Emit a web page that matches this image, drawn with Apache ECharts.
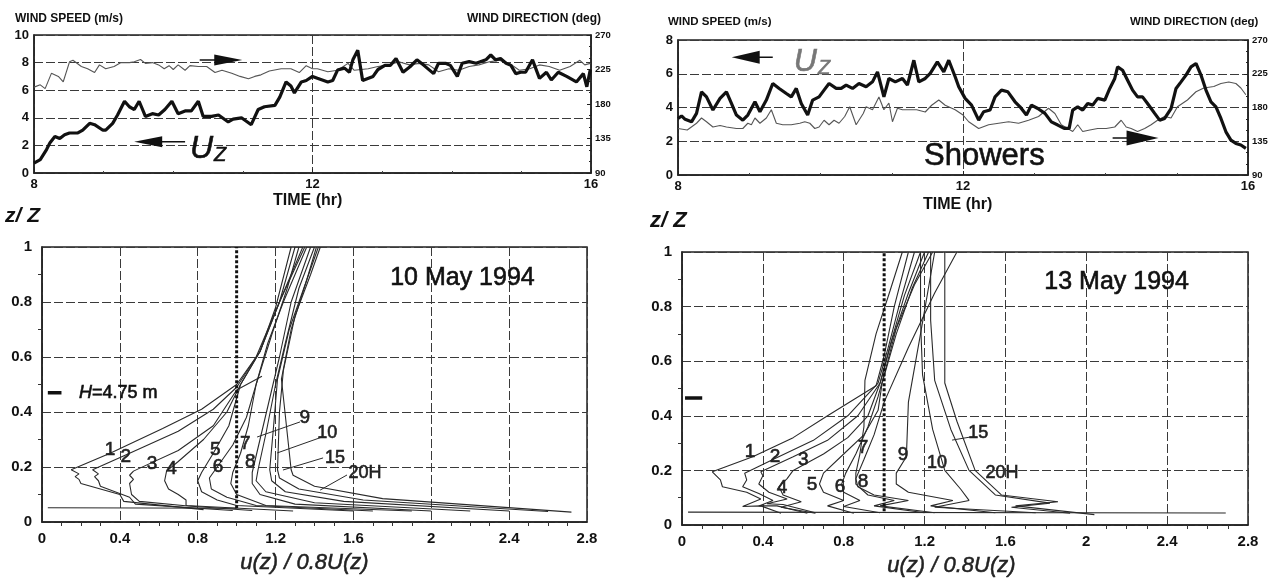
<!DOCTYPE html>
<html><head><meta charset="utf-8">
<script src="https://cdn.jsdelivr.net/npm/echarts@6/dist/echarts.min.js"></script>
<style>html,body{margin:0;padding:0;background:#fff}#c{width:1275px;height:583px}</style>
</head><body><div id="c"></div><script>
// ---------- DATA ----------
// 10 May 1994 : time (hr), wind speed (m/s)
const tlSpeed = [[8.0,0.72],[8.09,0.97],[8.18,1.7],[8.23,2.2],[8.3,2.65],[8.37,2.5],[8.44,2.77],[8.51,2.9],[8.63,2.9],[8.7,3.1],[8.8,3.6],[8.87,3.5],[8.99,3.1],[9.03,3.1],[9.13,3.6],[9.2,4.2],[9.3,5.2],[9.37,4.8],[9.44,4.6],[9.51,5.2],[9.6,4.1],[9.7,4.3],[9.79,4.2],[9.88,4.6],[9.98,5.2],[10.07,4.3],[10.17,4.5],[10.26,4.5],[10.36,5.2],[10.43,4.1],[10.55,4.1],[10.65,4.2],[10.79,3.7],[10.86,3.9],[10.98,4.0],[11.12,3.5],[11.22,4.6],[11.31,4.8],[11.46,4.9],[11.53,5.5],[11.62,6.6],[11.69,6.3],[11.74,5.8],[11.84,6.6],[11.91,6.7],[12.0,7.0],[12.07,6.86],[12.22,6.6],[12.29,6.7],[12.36,7.46],[12.46,7.6],[12.53,7.3],[12.58,8.2],[12.65,8.9],[12.72,6.7],[12.87,7.0],[12.94,7.5],[13.04,7.8],[13.12,7.8],[13.2,8.3],[13.3,7.3],[13.4,7.7],[13.5,8.2],[13.6,7.8],[13.74,7.2],[13.81,7.95],[13.91,7.95],[13.98,7.8],[14.08,7.0],[14.15,7.95],[14.25,8.07],[14.35,7.95],[14.49,8.2],[14.56,8.55],[14.63,8.2],[14.7,8.3],[14.78,7.95],[14.85,7.8],[14.92,7.2],[14.99,7.3],[15.06,7.3],[15.16,8.2],[15.26,6.86],[15.36,7.3],[15.43,6.74],[15.53,7.3],[15.65,7.0],[15.79,6.6],[15.89,7.2],[15.94,6.25],[15.99,7.5]];
// 10 May 1994 : time (hr), wind direction (deg)
const tlDir = [[8.0,202],[8.09,205],[8.16,200],[8.25,220],[8.35,216],[8.42,209],[8.51,235],[8.56,237],[8.68,229],[8.77,226],[8.87,221],[8.94,231],[9.03,226],[9.15,229],[9.25,234],[9.37,234],[9.44,235],[9.53,238],[9.6,233],[9.7,234],[9.79,231],[9.87,226],[9.94,230],[10.0,225],[10.07,231],[10.17,224],[10.24,230],[10.36,229],[10.48,229],[10.6,221],[10.7,224],[10.84,220],[10.96,216],[11.08,213],[11.17,216],[11.26,218],[11.38,223],[11.55,226],[11.69,226],[11.81,221],[11.91,230],[12.0,226],[12.07,226],[12.22,222],[12.36,224],[12.51,233],[12.6,224],[12.8,226],[12.94,229],[13.1,231],[13.24,235],[13.39,231],[13.53,233],[13.67,231],[13.81,222],[13.96,226],[14.1,224],[14.25,229],[14.39,231],[14.54,235],[14.68,237],[14.83,233],[14.97,224],[15.12,226],[15.26,231],[15.4,229],[15.55,224],[15.7,229],[15.84,237],[15.91,231],[15.99,233]];
// 13 May 1994 : time (hr), wind speed (m/s)
const trSpeed = [[8.0,3.35],[8.05,3.5],[8.1,3.3],[8.19,3.15],[8.26,3.65],[8.33,4.93],[8.4,4.63],[8.49,3.85],[8.59,4.54],[8.68,4.93],[8.75,4.24],[8.82,3.55],[8.91,3.25],[8.98,3.55],[9.08,4.34],[9.15,3.75],[9.24,4.44],[9.33,5.42],[9.42,5.13],[9.52,4.83],[9.59,4.63],[9.66,5.13],[9.73,4.24],[9.82,3.55],[9.89,4.44],[9.98,4.63],[10.05,5.03],[10.12,5.42],[10.22,5.13],[10.29,5.13],[10.36,5.33],[10.45,5.13],[10.54,5.42],[10.64,5.23],[10.73,5.52],[10.8,6.11],[10.89,4.63],[10.96,5.72],[11.05,5.52],[11.15,5.72],[11.22,5.33],[11.31,6.8],[11.38,5.52],[11.47,5.72],[11.54,6.02],[11.64,6.7],[11.73,6.11],[11.8,6.8],[11.89,5.82],[11.94,5.23],[12.03,4.54],[12.12,4.14],[12.22,3.25],[12.29,3.75],[12.38,3.85],[12.45,4.63],[12.54,5.03],[12.63,4.93],[12.73,4.34],[12.8,4.04],[12.89,3.55],[12.96,4.14],[13.05,3.94],[13.15,3.65],[13.24,3.15],[13.33,2.96],[13.42,2.76],[13.49,2.76],[13.54,3.85],[13.61,4.04],[13.68,3.85],[13.75,4.24],[13.82,4.14],[13.89,4.54],[13.99,4.44],[14.06,5.13],[14.13,5.72],[14.17,6.41],[14.24,6.21],[14.31,5.62],[14.38,5.03],[14.45,4.63],[14.52,4.63],[14.59,4.24],[14.69,3.65],[14.76,3.25],[14.83,3.35],[14.92,3.94],[14.99,5.13],[15.06,5.52],[15.13,5.92],[15.2,6.41],[15.27,6.61],[15.34,5.92],[15.41,5.03],[15.48,4.34],[15.55,4.04],[15.62,3.35],[15.69,2.56],[15.76,2.07],[15.83,1.87],[15.9,1.78],[15.97,1.58]];
// 13 May 1994 : time (hr), wind direction (deg)
const trDir = [[8.0,152],[8.13,150],[8.26,159],[8.33,166],[8.4,161],[8.49,154],[8.59,156],[8.68,154],[8.82,152],[8.91,152],[8.98,159],[9.03,157],[9.08,166],[9.15,159],[9.24,166],[9.31,177],[9.38,159],[9.47,157],[9.59,157],[9.71,159],[9.78,161],[9.85,159],[9.92,152],[9.98,154],[10.05,163],[10.12,157],[10.19,163],[10.26,159],[10.34,168],[10.41,181],[10.5,157],[10.6,172],[10.64,181],[10.73,177],[10.82,194],[10.89,177],[10.96,186],[11.01,161],[11.08,179],[11.15,177],[11.24,177],[11.35,177],[11.47,174],[11.56,183],[11.66,190],[11.75,183],[11.89,177],[12.0,170],[12.08,161],[12.22,152],[12.36,157],[12.5,159],[12.64,161],[12.78,159],[12.92,163],[13.06,168],[13.2,179],[13.29,172],[13.38,157],[13.47,152],[13.54,148],[13.61,157],[13.68,148],[13.78,150],[13.89,152],[14.01,152],[14.13,154],[14.22,163],[14.29,154],[14.36,152],[14.45,148],[14.55,152],[14.64,157],[14.73,163],[14.83,168],[14.92,166],[15.01,181],[15.15,190],[15.27,201],[15.38,206],[15.52,208],[15.62,212],[15.73,214],[15.83,212],[15.9,206],[15.97,197]];

// Profiles 10 May 1994 : [u(z)/0.8U(z), z/Z]
const may10Labels = ['1','2','3','4','5','6','7','8','9','10','15','20H'];
const may10Profiles = [
 [[0.83,0.045],[0.42,0.075],[0.40,0.10],[0.20,0.14],[0.19,0.155],[0.17,0.165],[0.19,0.175],[0.15,0.19],[0.35,0.25],[0.62,0.34],[0.82,0.41],[1.00,0.50],[1.12,0.62],[1.20,0.78],[1.28,1.0]],
 [[0.98,0.042],[0.48,0.065],[0.45,0.09],[0.30,0.13],[0.29,0.15],[0.27,0.165],[0.29,0.175],[0.26,0.19],[0.45,0.25],[0.70,0.33],[0.88,0.41],[1.0,0.49],[1.1,0.6],[1.22,0.8],[1.30,1.0]],
 [[1.08,0.042],[0.75,0.058],[0.50,0.075],[0.46,0.10],[0.45,0.14],[0.47,0.155],[0.45,0.17],[0.47,0.185],[0.50,0.195],[0.70,0.26],[0.88,0.35],[1.0,0.48],[1.13,0.53]],
 [[1.29,0.04],[0.74,0.06],[0.74,0.08],[0.70,0.10],[0.65,0.12],[0.63,0.15],[0.64,0.185],[0.70,0.22],[0.83,0.30],[0.95,0.40],[1.02,0.50],[1.12,0.62],[1.22,0.8],[1.34,1.0]],
 [[1.6,0.04],[1.0,0.06],[0.90,0.08],[0.82,0.11],[0.80,0.15],[0.82,0.18],[0.88,0.25],[0.96,0.35],[1.02,0.5],[1.12,0.62],[1.22,0.8],[1.35,1.0]],
 [[1.7,0.04],[1.1,0.06],[0.95,0.09],[0.87,0.12],[0.86,0.16],[0.90,0.2],[0.98,0.28],[1.05,0.38],[1.10,0.5],[1.16,0.65],[1.24,0.8],[1.36,1.0]],
 [[1.9,0.04],[1.15,0.06],[1.0,0.1],[0.97,0.14],[0.98,0.18],[1.02,0.25],[1.06,0.35],[1.10,0.5],[1.18,0.68],[1.26,0.85],[1.32,1.0]],
 [[2.0,0.04],[1.3,0.065],[1.12,0.1],[1.08,0.14],[1.08,0.18],[1.12,0.3],[1.17,0.45],[1.22,0.6],[1.28,0.8],[1.38,1.0]],
 [[2.2,0.04],[1.4,0.07],[1.15,0.11],[1.10,0.15],[1.11,0.19],[1.15,0.32],[1.20,0.5],[1.25,0.65],[1.32,0.85],[1.40,1.0]],
 [[2.4,0.04],[1.55,0.075],[1.25,0.11],[1.18,0.15],[1.17,0.19],[1.19,0.35],[1.21,0.52],[1.27,0.7],[1.36,0.88],[1.42,1.0]],
 [[2.6,0.038],[1.65,0.08],[1.32,0.12],[1.22,0.16],[1.21,0.19],[1.22,0.4],[1.24,0.55],[1.30,0.75],[1.38,0.9],[1.43,1.0]],
 [[2.72,0.036],[1.75,0.085],[1.40,0.13],[1.29,0.17],[1.28,0.19],[1.23,0.52],[1.28,0.7],[1.36,0.88],[1.41,1.0]]
];
const may10LabelPos = [[0.35,0.262],[0.43,0.237],[0.565,0.213],[0.665,0.195],[0.89,0.262],[0.905,0.201],[1.045,0.286],[1.07,0.219],[1.35,0.378],[1.465,0.324],[1.505,0.232],[1.66,0.177]];
const may10Leaders = [[[1.105,0.309],[1.326,0.364]],[[1.208,0.251],[1.439,0.309]],[[1.238,0.189],[1.444,0.233]],[[1.429,0.116],[1.567,0.171]]];
const may10Base = [[0.03,0.052],[1.0,0.05]];

// Profiles 13 May 1994
const may13Labels = ['1','2','3','4','5','6','7','8','9','10','15','20H'];
const may13Profiles = [
 [[0.49,0.043],[0.39,0.07],[0.30,0.068],[0.39,0.095],[0.32,0.12],[0.20,0.14],[0.19,0.165],[0.15,0.195],[0.35,0.25],[0.55,0.32],[0.72,0.40],[0.85,0.46],[0.96,0.51],[1.0,0.62],[1.05,0.8],[1.12,1.0]],
 [[0.62,0.043],[0.47,0.07],[0.38,0.07],[0.45,0.09],[0.38,0.115],[0.30,0.14],[0.32,0.165],[0.31,0.19],[0.45,0.24],[0.65,0.31],[0.82,0.40],[0.97,0.52],[1.02,0.65],[1.08,0.82],[1.15,1.0]],
 [[0.66,0.045],[0.50,0.075],[0.42,0.078],[0.52,0.095],[0.43,0.12],[0.38,0.15],[0.40,0.18],[0.39,0.195],[0.55,0.25],[0.72,0.31],[0.87,0.40],[0.98,0.52],[1.03,0.66],[1.10,0.84],[1.18,1.0]],
 [[0.66,0.043],[0.49,0.065],[0.59,0.085],[0.50,0.11],[0.48,0.14],[0.52,0.17],[0.55,0.2],[0.70,0.26],[0.82,0.32],[0.92,0.40],[0.98,0.52],[1.04,0.68],[1.12,0.85],[1.20,1.0]],
 [[0.85,0.043],[0.72,0.07],[0.80,0.09],[0.70,0.12],[0.68,0.15],[0.70,0.19],[0.80,0.26],[0.90,0.33],[0.97,0.42],[0.99,0.52],[1.06,0.7],[1.14,0.87],[1.22,1.0]],
 [[0.98,0.045],[0.80,0.068],[0.88,0.09],[0.80,0.12],[0.79,0.15],[0.81,0.19],[0.86,0.26],[0.92,0.36],[0.97,0.47],[1.0,0.55],[1.06,0.72],[1.15,0.88],[1.24,1.0]],
 [[1.2,0.045],[0.95,0.07],[1.05,0.09],[0.92,0.11],[0.86,0.15],[0.86,0.19],[0.88,0.26],[0.90,0.36],[0.905,0.53],[0.96,0.7],[1.03,0.86],[1.09,1.0]],
 [[1.25,0.045],[0.98,0.07],[1.12,0.09],[0.95,0.11],[0.87,0.14],[0.86,0.17],[0.90,0.24],[0.95,0.33],[1.0,0.45],[1.12,0.65],[1.25,0.85],[1.36,1.0]],
 [[1.55,0.045],[1.23,0.07],[1.34,0.09],[1.12,0.12],[1.06,0.15],[1.06,0.19],[1.11,0.25],[1.12,0.45],[1.18,0.7],[1.25,1.0]],
 [[1.75,0.045],[1.25,0.065],[1.42,0.09],[1.38,0.13],[1.30,0.2],[1.24,0.35],[1.19,0.55],[1.18,0.75],[1.18,1.0]],
 [[1.92,0.043],[1.63,0.065],[1.82,0.08],[1.55,0.11],[1.42,0.2],[1.33,0.35],[1.25,0.53],[1.23,0.75],[1.23,1.0]],
 [[2.04,0.038],[1.65,0.07],[1.86,0.085],[1.58,0.11],[1.45,0.2],[1.36,0.38],[1.30,0.52],[1.30,0.75],[1.30,1.0]]
];
const may13LabelPos = [[0.336,0.267],[0.46,0.249],[0.60,0.238],[0.495,0.135],[0.643,0.146],[0.782,0.139],[0.896,0.282],[0.896,0.157],[1.094,0.256],[1.262,0.227],[1.465,0.337],[1.583,0.19]];
const may13Leaders = [[[1.336,0.311],[1.425,0.322]]];
const may13Base = [[0.03,0.047],[2.69,0.044]];

const neutralLine = [[1.0,0.05],[1.0,1.0]];      // u/0.8U = 1 reference
const may10Canopy = [[0.03,0.47],[0.10,0.47]];    // H = 4.75 m marker
const may13Canopy = [[0.015,0.465],[0.10,0.465]];

// annotations (arrows: tail, head) in data units of the wind-speed axis
const tlArrowDir = [[10.38,8.19],[10.79,8.19]];
const tlArrowSpd = [[10.17,2.27],[9.64,2.27]];
const tlUzPos = [10.5,1.85];
const trArrowSpd = [[9.33,6.98],[8.95,6.98]];
const trArrowDir = [[14.1,2.19],[14.52,2.19]];
const trUzPos = [9.88,6.8];
const showersPos = [12.3,1.07];
const may10Date = [2.16,0.887];
const may13Date = [2.15,0.889];
const may10HText = [0.19,0.47];

// ---------- CHART ----------
const FONT = 'Liberation Sans, Arial, sans-serif';
const chart = echarts.init(document.getElementById('c'));
const gridLine = {show:true, lineStyle:{color:'#3a3a3a', width:1, type:[9,3]}};
const boldLbl = (s)=>({fontFamily:FONT, fontWeight:'bold', fontSize:s, color:'#111'});

function timeX(gi){
  return {gridIndex:gi, type:'value', min:8, max:16, interval:4,
    axisLine:{show:true, lineStyle:{color:'#222', width:1.5}},
    axisTick:{show:true, inside:true, length:4, lineStyle:{color:'#222'}},
    minorTick:{show:true, splitNumber:4, length:2, lineStyle:{color:'#444'}},
    axisLabel:Object.assign(boldLbl(13),{margin:5}),
    splitLine:gridLine};
}
function profX(gi){
  return {gridIndex:gi, type:'value', min:0, max:2.8, interval:0.4,
    axisLine:{show:true, lineStyle:{color:'#222', width:1.5}},
    axisTick:{show:false},
    minorTick:{show:true, splitNumber:4, length:4, lineStyle:{color:'#333'}},
    axisLabel:Object.assign(boldLbl(15),{margin:9, formatter:v=>String(+v.toFixed(1))}),
    splitLine:gridLine};
}
function profY(gi){
  return {gridIndex:gi, type:'value', min:0, max:1, interval:0.2,
    axisLine:{show:true, lineStyle:{color:'#222', width:1.5}},
    axisTick:{show:false},
    minorTick:{show:true, splitNumber:2, length:4, lineStyle:{color:'#333'}},
    axisLabel:Object.assign(boldLbl(15),{margin:10, formatter:v=>String(+v.toFixed(1))}),
    splitLine:gridLine};
}

const series = [];
function addLine(data, xi, yi, style, z){
  series.push({type:'line', xAxisIndex:xi, yAxisIndex:yi, data:data, showSymbol:false, silent:true,
    lineStyle:style, z:z||2, animation:false});
}
function addArrow(arr, xi, yi, size, rot){
  addLine(arr, xi, yi, {color:'#111', width:1.5}, 3);
  series.push({type:'scatter', xAxisIndex:xi, yAxisIndex:yi, data:[arr[1]], symbol:'triangle',
    symbolSize:size, symbolRotate:rot, itemStyle:{color:'#111', opacity:1}, silent:true, z:4});
}
function addText(pos, xi, yi, text, style){
  series.push({type:'scatter', xAxisIndex:xi, yAxisIndex:yi, data:[pos], symbolSize:0, silent:true, z:5,
    itemStyle:{color:'#111', opacity:1},
    label:Object.assign({show:true, position:'inside', formatter:text, fontFamily:FONT, color:'#111',
      opacity:1, textBorderWidth:0, textBorderColor:'transparent', textShadowBlur:0}, style)});
}
const heavy = (c)=>({color:c, textBorderColor:c, textBorderWidth:0.6});

// top time series
addLine(tlDir, 0, 1, {color:'#555', width:1.1});
addLine(tlSpeed, 0, 0, {color:'#111', width:3.2}, 3);
addLine(trDir, 1, 3, {color:'#555', width:1.1});
addLine(trSpeed, 1, 2, {color:'#111', width:3.2}, 3);
addArrow(tlArrowDir, 0, 0, [11,28], -90);
addArrow(tlArrowSpd, 0, 0, [11,28], 90);
addArrow(trArrowSpd, 1, 2, [13,28], 90);
addArrow(trArrowDir, 1, 2, [15,32], -90);
const uzRich = (c)=>({u:Object.assign({fontSize:32, fontStyle:'italic', fontFamily:FONT, lineHeight:36, verticalAlign:'bottom'}, heavy(c)),
                      s:Object.assign({fontSize:20, fontStyle:'italic', fontFamily:FONT, lineHeight:30, verticalAlign:'bottom', padding:[0,0,0,1]}, heavy(c))});
addText(tlUzPos, 0, 0, '{u|U}{s|Z}', {rich:uzRich('#111')});
addText(trUzPos, 1, 2, '{u|U}{s|Z}', {rich:uzRich('#777')});
addText(showersPos, 1, 2, 'Showers', Object.assign({fontSize:31}, heavy('#111')));

// profiles
function addProfiles(profiles, labels, labelPos, leaders, base, canopy, hPos, datePos, dateText, xi, yi){
  profiles.forEach(p=>addLine(p, xi, yi, {color:'#2a2a2a', width:1.1}));
  leaders.forEach(l=>addLine(l, xi, yi, {color:'#2a2a2a', width:1}));
  addLine(base, xi, yi, {color:'#2a2a2a', width:1.1});
  addLine(neutralLine, xi, yi, {color:'#111', width:3, type:[3,2]}, 3);
  addLine(canopy, xi, yi, {color:'#111', width:3.5}, 3);
  labels.forEach((t,i)=>{
    const big = (t.length>1) ? 18 : 19;
    addText(labelPos[i], xi, yi, t, Object.assign({fontSize:big}, heavy('#222')));
  });
  if(hPos) addText(hPos, xi, yi, '{h|H}{t|=4.75 m}', {align:'left', rich:{
    h:Object.assign({fontSize:18, fontStyle:'italic', fontFamily:FONT}, heavy('#111')),
    t:Object.assign({fontSize:18, fontFamily:FONT}, heavy('#111'))}});
  addText(datePos, xi, yi, dateText, Object.assign({fontSize:25}, heavy('#111')));
}
addProfiles(may10Profiles, may10Labels, may10LabelPos, may10Leaders, may10Base, may10Canopy, may10HText, may10Date, '10 May 1994', 2, 4);
addProfiles(may13Profiles, may13Labels, may13LabelPos, may13Leaders, may13Base, may13Canopy, null, may13Date, '13 May 1994', 3, 5);

const txt = (x,y,t,s,extra)=>({type:'text', left:x, top:y, style:Object.assign({text:t, font:s, fill:'#111'}, extra||{})});

chart.setOption({
  animation:false,
  backgroundColor:'#fff',
  grid:[
    {left:34, top:35, width:557, height:138, show:true, borderColor:'#222', borderWidth:1.5},
    {left:678, top:40, width:570, height:135, show:true, borderColor:'#222', borderWidth:1.5},
    {left:42, top:247, width:545, height:275, show:true, borderColor:'#222', borderWidth:1.5},
    {left:682, top:252, width:566, height:273, show:true, borderColor:'#222', borderWidth:1.5}
  ],
  xAxis:[timeX(0), timeX(1), profX(2), profX(3)],
  yAxis:[
    {gridIndex:0, type:'value', min:0, max:10, interval:2, axisLine:{show:true,lineStyle:{color:'#222',width:1.5}}, axisTick:{show:false}, axisLabel:Object.assign(boldLbl(13),{margin:5}), splitLine:gridLine},
    {gridIndex:0, type:'value', min:90, max:270, interval:45, position:'right', axisLine:{show:true,lineStyle:{color:'#222',width:1.5}}, axisTick:{show:true,inside:true,length:4}, minorTick:{show:true,splitNumber:3,length:2}, axisLabel:Object.assign(boldLbl(9.5),{margin:4}), splitLine:{show:false}},
    {gridIndex:1, type:'value', min:0, max:8, interval:2, axisLine:{show:true,lineStyle:{color:'#222',width:1.5}}, axisTick:{show:false}, axisLabel:Object.assign(boldLbl(13),{margin:5}), splitLine:gridLine},
    {gridIndex:1, type:'value', min:90, max:270, interval:45, position:'right', axisLine:{show:true,lineStyle:{color:'#222',width:1.5}}, axisTick:{show:true,inside:true,length:4}, minorTick:{show:true,splitNumber:3,length:2}, axisLabel:Object.assign(boldLbl(9.5),{margin:4}), splitLine:{show:false}},
    profY(2), profY(3)
  ],
  series:series,
  graphic:[
    txt(15,13,'WIND SPEED (m/s)','bold 12px '+FONT),
    txt(467,13,'WIND DIRECTION (deg)','bold 12px '+FONT),
    txt(668,16,'WIND SPEED (m/s)','bold 11.5px '+FONT),
    txt(1130,16,'WIND DIRECTION (deg)','bold 11.5px '+FONT),
    txt(273,193,'TIME (hr)','bold 16px '+FONT),
    txt(923,197,'TIME (hr)','bold 16px '+FONT),
    txt(5,206,'z/ Z','italic bold 21px '+FONT),
    txt(650,210,'z/ Z','italic bold 22px '+FONT),
    txt(240,552,'u(z) / 0.8U(z)','italic 22px '+FONT, {fill:'#222', stroke:'#222', lineWidth:0.5}),
    txt(887,555,'u(z) / 0.8U(z)','italic 22px '+FONT, {fill:'#222', stroke:'#222', lineWidth:0.5})
  ]
});
</script></body></html>
